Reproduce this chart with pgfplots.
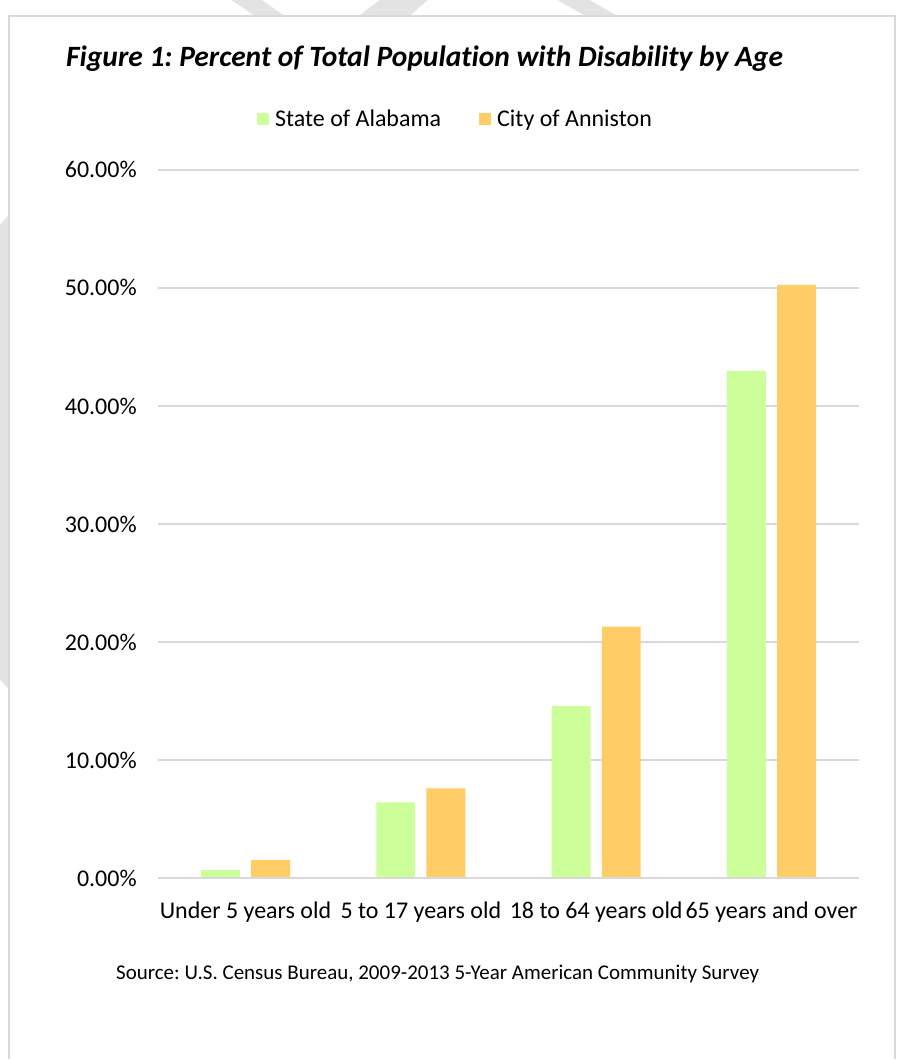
\documentclass[border=0pt]{standalone}
\usepackage{pgfplots}
\pgfplotsset{compat=1.18}
\usepackage{fontspec}
\setmainfont{Carlito}[Ligatures=NoCommon]
\frenchspacing
\definecolor{alabama}{HTML}{CCFF99}
\definecolor{anniston}{HTML}{FFCC66}
\definecolor{gridgray}{HTML}{D9D9D9}
\definecolor{wm}{HTML}{E3E3E3}
\begin{document}
\begin{tikzpicture}[x=1bp,y=1bp]
\fill[white] (0,0) rectangle (899,-1060);
% faint watermark pieces in the margins
\fill[wm] (232,0) -- (262,0) -- (285,-16) -- (255,-16) -- cycle;
\fill[wm] (380,0) -- (428,0) -- (410,-16) -- (359,-16) -- cycle;
\fill[wm] (558,0) -- (590,0) -- (618,-16) -- (586,-16) -- cycle;
\fill[wm] (0,-225) -- (9,-215) -- (9,-690) -- (0,-680) -- cycle;
\draw[gridgray, line width=2bp] (9,-1060) -- (9,-16) -- (896,-16) -- (896,-1060);
\node[anchor=base west, inner sep=0pt, font=\fontsize{29.5bp}{33bp}\selectfont\bfseries\itshape] at (66,-67) {Figure 1: Percent of Total Population with Disability by Age};
\node[anchor=base, inner sep=0pt, font=\fontsize{21bp}{24bp}\selectfont] at (438,-980) {Source: U.S. Census Bureau, 2009-2013 5-Year American Community Survey};
\begin{axis}[
  at={(158bp,-879bp)}, anchor=south west,
  width=702bp, height=709bp, scale only axis,
  xmin=-0.5, xmax=3.5, ymin=0, ymax=60,
  ybar, bar width=0.222,
  axis line style={draw=none},
  major tick length=0pt,
  tick style={draw=none},
  xtick={0,1,2,3},
  xticklabels={Under 5 years old,5 to 17 years old,18 to 64 years old,65 years and over},
  ytick={0,10,20,30,40,50,60},
  yticklabels={0.00\%,10.00\%,20.00\%,30.00\%,40.00\%,50.00\%,60.00\%},
  ymajorgrids, grid style={gridgray, line width=1.5bp},
  tick label style={font=\fontsize{24bp}{28bp}\selectfont},
  xticklabel style={anchor=base, inner sep=0pt, yshift=-40bp},
  yticklabel style={anchor=east, inner sep=0pt, xshift=-21bp},
  legend style={at={(0.423,1)}, anchor=center, yshift=51bp, draw=none, fill=none,
    font=\fontsize{24bp}{28bp}\selectfont, legend columns=2,
    /tikz/every even column/.append style={column sep=38bp},
    nodes={inner sep=0pt}},
  legend cell align=left,
  legend image code/.code={\fill[#1] (0bp,-6bp) rectangle (12bp,6bp);},
  clip=false,
]
\addplot[fill=alabama, draw=none, bar shift=-0.143] coordinates {(0,0.68) (1,6.43) (2,14.6) (3,42.98)};
\addplot[fill=anniston, draw=none, bar shift=0.143] coordinates {(0,1.52) (1,7.6) (2,21.3) (3,50.25)};
\legend{\hspace{6bp}State of Alabama,\hspace{6bp}City of Anniston}
\draw[gridgray, line width=2.5bp] (axis cs:-0.5,0) -- (axis cs:3.5,0);
\end{axis}
\end{tikzpicture}
\end{document}
